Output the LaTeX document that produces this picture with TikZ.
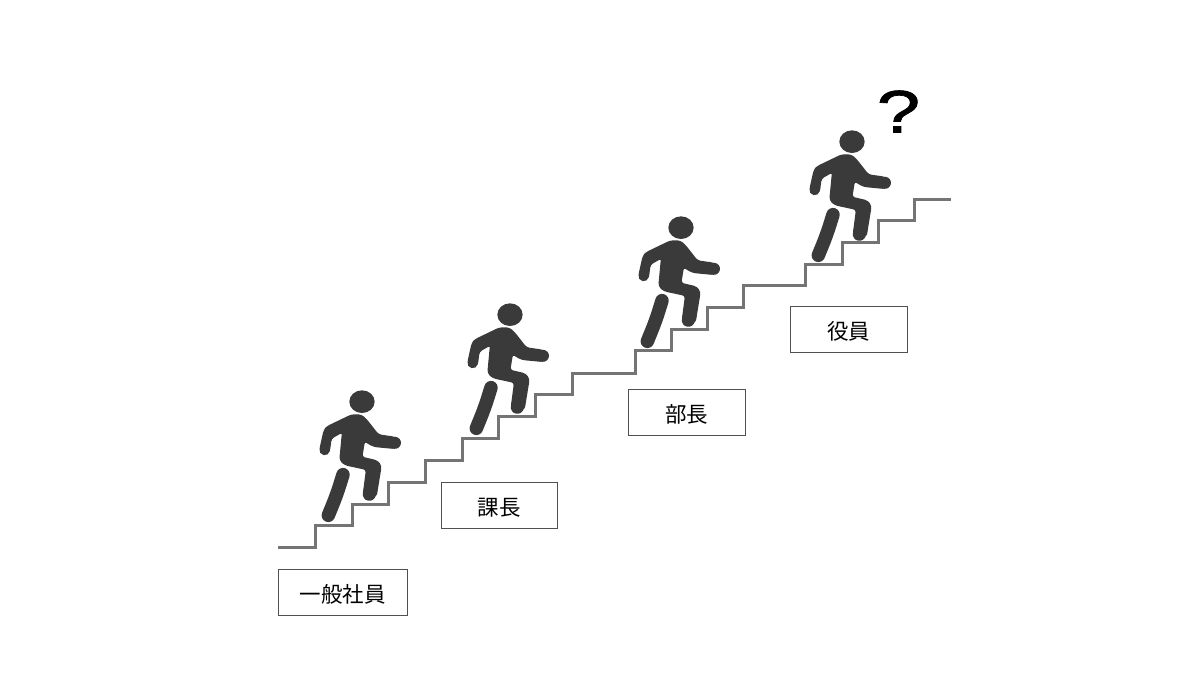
\documentclass[tikz,border=0pt]{standalone}
\usepackage{fontspec}
\setmainfont{Liberation Sans}
\newfontfamily\cjk{Noto Sans CJK JP}
\newfontfamily\qfont[FakeBold=1.2]{Liberation Sans}
\definecolor{figdark}{HTML}{3A3A3A}
\definecolor{stairgray}{HTML}{747474}
\definecolor{boxedge}{HTML}{505050}
\newcommand{\ranktext}[1]{\raisebox{-10pt}[0pt][0pt]{#1}}
\tikzset{
  x=1pt,y=-1pt,
  limb/.style={draw=figdark,line cap=round,line join=round},
  rankbox/.style={draw=boxedge,line width=0.8pt,fill=white,minimum height=46pt,inner sep=0pt,font=\fontsize{21.5}{24}\selectfont\cjk,text=black},
  stairline/.style={draw=stairgray,line width=3pt,line join=miter},
  walker/.pic={
    \begin{scope}[x=0.3333pt,y=-0.3333pt]
      \fill[figdark] (276,65) ellipse [x radius=38,y radius=34];
      \filldraw[figdark,line width=1.4pt,line join=round,rounded corners=3pt] (172,140) -- (245,105) -- (273,105) -- (288,118) -- (325,165) -- (375,172) -- (375,205) -- (312,199) -- (295,190) -- (283,182) -- (275,232) -- (322,243) -- (333,258) -- (318,350) -- (280,345) -- (290,268) -- (225,254) -- (210,240) -- (218,155) -- (183,175) -- (178,212) -- (150,208) -- (163,150) -- cycle;
      \draw[limb,line width=10.5pt] (164,210) -- (165.5,203);
      \draw[limb,line width=12pt] (375,188.5) -- (370,188);
      \draw[limb,line width=13pt] (298,343) -- (300,332);
      \draw[limb,line width=13.5pt,rounded corners=10pt] (219,284) -- (200,345) -- (175,406);
    \end{scope}
  }
}
\begin{document}
\begin{tikzpicture}
\useasboundingbox (0,0) rectangle (1200,675);
\draw[stairline] (278,547) -- (315,547) |- (352,525) |- (388,504) |- (425,482) |- (462,460) |- (498,438) |- (535,416) |- (572,394) |- (635,373) |- (671,350) |- (707,329) |- (743,307) |- (805,285) |- (842,264) |- (878,242) |- (914,220) |- (951,199);
\pic at (270,380) {walker};
\pic at (418,293) {walker};
\pic at (589,206) {walker};
\pic at (760,120) {walker};
\node[rankbox,minimum width=129pt] (a) at (342.5,592) {\ranktext{一般社員}};
\node[rankbox,minimum width=116pt] (b) at (499,505) {\ranktext{課長}};
\node[rankbox,minimum width=117pt] (c) at (686.5,412.5) {\ranktext{部長}};
\node[rankbox,minimum width=117pt] (d) at (848.5,329) {\ranktext{役員}};
\node[inner sep=0pt,xscale=1.3,font=\fontsize{60}{60}\selectfont\qfont,text=black] (q) at (898.5,111.5) {?};
\end{tikzpicture}
\end{document}
